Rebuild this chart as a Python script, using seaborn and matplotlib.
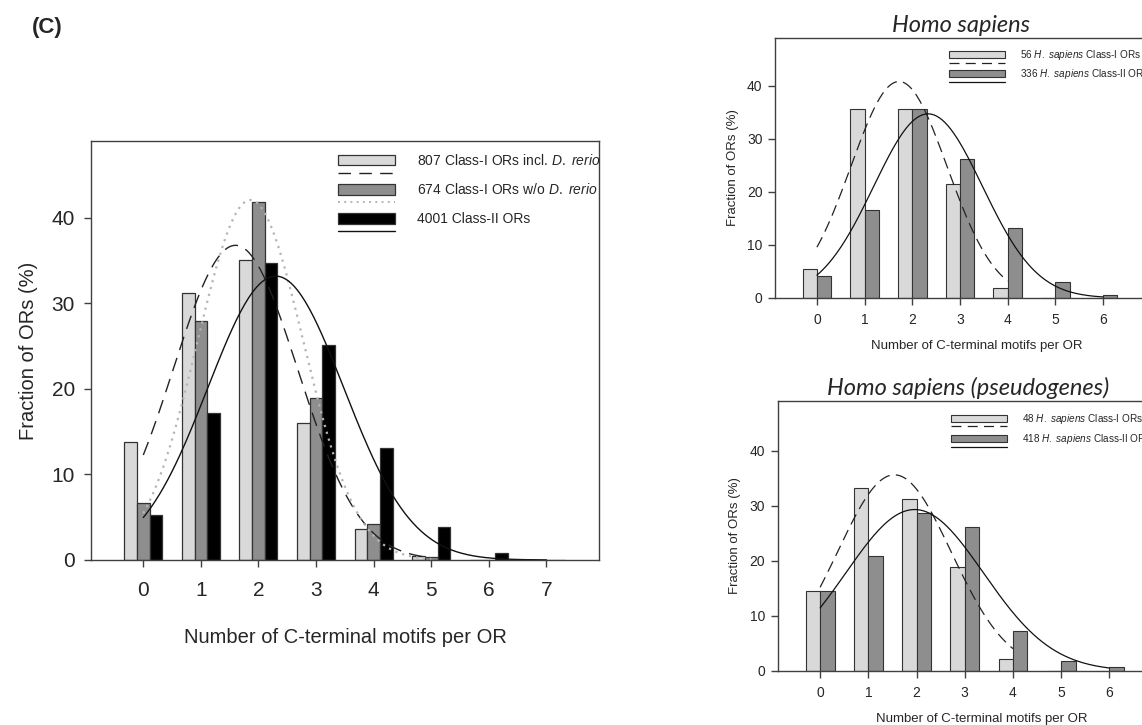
import numpy as np
import pandas as pd
import matplotlib
matplotlib.use("Agg")
import matplotlib.pyplot as plt
import seaborn as sns
from matplotlib.patches import Patch, Rectangle
from matplotlib.lines import Line2D
from matplotlib.legend_handler import HandlerBase

# ---------------- data ----------------
motifs_main = [0, 1, 2, 3, 4, 5, 6, 7]
main_series = ["807 Class-I ORs incl. $\\it{D.\\ rerio}$",
               "674 Class-I ORs w/o $\\it{D.\\ rerio}$",
               "4001 Class-II ORs"]
classI_incl = [13.8, 31.2, 35.1, 16.0, 3.6, 0.5, 0.0, 0.0]
classI_wo = [6.7, 28.0, 41.9, 19.0, 4.2, 0.3, 0.0, 0.0]
classII_all = [5.3, 17.2, 34.7, 25.2, 13.1, 3.8, 0.8, 0.0]
# Gaussian fit parameters: amplitude, mean, sd, last x of curve
fit_incl = (36.8, 1.6, 1.08, 5.0)
fit_wo = (42.1, 1.86, 0.92, 5.0)
fit_II = (33.2, 2.30, 1.18, 7.0)

motifs_hs = [0, 1, 2, 3, 4, 5, 6]
hs_series = ["56 $\\it{H.\\ sapiens}$ Class-I ORs",
             "336 $\\it{H.\\ sapiens}$ Class-II ORs"]
hs_classI = [5.4, 35.7, 35.7, 21.4, 1.8, 0.0, 0.0]
hs_classII = [4.2, 16.5, 35.7, 26.2, 13.1, 3.0, 0.6]
fit_hs_I = (40.8, 1.72, 1.01, 4.0)
fit_hs_II = (34.7, 2.33, 1.14, 6.0)

ps_series = ["48 $\\it{H.\\ sapiens}$ Class-I ORs",
             "418 $\\it{H.\\ sapiens}$ Class-II ORs"]
ps_classI = [14.6, 33.3, 31.3, 18.8, 2.1, 0.0, 0.0]
ps_classII = [14.6, 20.8, 28.7, 26.1, 7.2, 1.9, 0.7]
fit_ps_I = (35.6, 1.54, 1.18, 4.0)
fit_ps_II = (29.3, 1.96, 1.43, 6.0)

yticks = [0, 10, 20, 30, 40]
xlabel = "Number of C-terminal motifs per OR"
ylabel = "Fraction of ORs (%)"

# ---------------- style ----------------
sns.set_style("white")
plt.rcParams["font.family"] = ["Liberation Sans", "DejaVu Sans"]
plt.rcParams["mathtext.fontset"] = "custom"
plt.rcParams["mathtext.rm"] = "Liberation Sans"
plt.rcParams["mathtext.it"] = "Liberation Sans:italic"

LIGHT, MID, DARK = "#d9d9d9", "#8e8e8e", "#000000"
EDGE = "#333333"
SPINE = "#404040"


class BarLineHandler(HandlerBase):
    def __init__(self, gap=0.9, **kw):
        super().__init__(**kw)
        self.gap = gap

    def create_artists(self, legend, orig_handle, xdescent, ydescent,
                       width, height, fontsize, trans):
        patch, line = orig_handle
        x0, y0 = -xdescent, -ydescent
        rect = Rectangle((x0, y0), width, height, transform=trans)
        rect.update_from(patch)
        ln = Line2D([x0, x0 + width], [y0 - self.gap * height] * 2, transform=trans)
        ln.update_from(line)
        return [rect, ln]


def gauss(p):
    a, mu, sd, xend = p
    x = np.linspace(0, xend, 200)
    return x, a * np.exp(-(x - mu) ** 2 / (2 * sd ** 2))


def style_axes(ax, tick_fs, lab_fs, xlim, xpad, ypad):
    ax.set_xlim(*xlim)
    ax.set_ylim(0, 49)
    ax.set_yticks(yticks)
    for s in ax.spines.values():
        s.set_visible(True)
        s.set_color(SPINE)
        s.set_linewidth(1.0)
    ax.tick_params(axis="both", which="both", bottom=True, left=True, top=False,
                   right=False, direction="out", length=5, width=1.0,
                   color=SPINE, labelsize=tick_fs)
    ax.tick_params(axis="x", pad=xpad)
    ax.tick_params(axis="y", pad=ypad)
    ax.set_xlabel(xlabel, fontsize=lab_fs)
    ax.set_ylabel(ylabel, fontsize=lab_fs)


fig = plt.figure(figsize=(11.42, 7.25), dpi=100)

# ---------------- main panel ----------------
ax = fig.add_axes([0.0801, 0.2276, 0.4448, 0.5779])
df = pd.DataFrame({
    "motifs": motifs_main * 3,
    "pct": classI_incl + classI_wo + classII_all,
    "set": [main_series[0]] * 8 + [main_series[1]] * 8 + [main_series[2]] * 8,
})
sns.barplot(data=df, x="motifs", y="pct", hue="set", order=motifs_main,
            hue_order=main_series, palette=[LIGHT, MID, DARK], width=0.66,
            edgecolor=EDGE, linewidth=0.9, saturation=1, ax=ax, legend=False)
x, y = gauss(fit_incl)
ax.plot(x, y, color="#222222", lw=1.0, ls=(0, (10, 6)))
x, y = gauss(fit_wo)
ax.plot(x, y, color="#b5b5b5", lw=1.6, ls=(0, (1, 2.2)))
x, y = gauss(fit_II)
ax.plot(x, y, color="#111111", lw=1.0, ls="-")
style_axes(ax, 15, 14.5, (-0.9, 7.92), 10, 7)
ax.xaxis.labelpad = 20
ax.yaxis.labelpad = 10

handles = [
    (Patch(facecolor=LIGHT, edgecolor=EDGE, linewidth=0.9),
     Line2D([], [], color="#222222", lw=1.0, ls=(0, (9, 6)))),
    (Patch(facecolor=MID, edgecolor=EDGE, linewidth=0.9),
     Line2D([], [], color="#b5b5b5", lw=1.4, ls=(0, (1, 2.2)))),
    (Patch(facecolor=DARK, edgecolor=EDGE, linewidth=0.9),
     Line2D([], [], color="#111111", lw=1.0)),
]
ax.legend(handles, main_series, handler_map={tuple: BarLineHandler(gap=0.7)},
          loc="upper left", bbox_to_anchor=(0.475, 0.985), frameon=False,
          fontsize=10, handlelength=4.1, handleheight=0.8, labelspacing=1.05,
          handletextpad=1.6, borderaxespad=0)

fig.text(0.028, 0.962, "(C)", fontsize=16, fontweight="bold", va="center")


# ---------------- right panels ----------------
def small_panel(rect, cI, cII, labels, fitI, fitII, title, title_x, leg_x, lsp):
    a = fig.add_axes(rect)
    d = pd.DataFrame({
        "motifs": motifs_hs * 2,
        "pct": cI + cII,
        "set": [labels[0]] * 7 + [labels[1]] * 7,
    })
    sns.barplot(data=d, x="motifs", y="pct", hue="set", order=motifs_hs,
                hue_order=labels, palette=[LIGHT, MID], width=0.6,
                edgecolor=EDGE, linewidth=0.8, saturation=1, ax=a, legend=False)
    xx, yy = gauss(fitI)
    a.plot(xx, yy, color="#222222", lw=0.9, ls=(0, (9, 5)))
    xx, yy = gauss(fitII)
    a.plot(xx, yy, color="#111111", lw=0.9)
    style_axes(a, 10, 9.5, (-0.88, 7.6), 6, 4)
    a.xaxis.labelpad = 9
    a.yaxis.labelpad = 6
    a.set_title(title, fontsize=17, fontstyle="italic",
                family=["Lato", "DejaVu Sans"], pad=4, x=title_x)
    h = [
        (Patch(facecolor=LIGHT, edgecolor=EDGE, linewidth=0.8),
         Line2D([], [], color="#222222", lw=0.9, ls=(0, (8, 5)))),
        (Patch(facecolor=MID, edgecolor=EDGE, linewidth=0.8),
         Line2D([], [], color="#111111", lw=0.9)),
    ]
    a.legend(h, labels, handler_map={tuple: BarLineHandler(gap=0.65)},
             loc="upper left", bbox_to_anchor=(leg_x, 0.975), frameon=False,
             fontsize=7.2, handlelength=5.6, handleheight=0.7, labelspacing=lsp,
             handletextpad=1.5, borderaxespad=0)
    return a


small_panel([0.6786, 0.589, 0.3542, 0.3586], hs_classI, hs_classII, hs_series,
            fit_hs_I, fit_hs_II, "Homo sapiens", 0.46, 0.42, 0.5)
small_panel([0.681, 0.0745, 0.358, 0.3724], ps_classI, ps_classII, ps_series,
            fit_ps_I, fit_ps_II, "Homo sapiens (pseudogenes)", 0.465, 0.413, 0.65)

fig.savefig("out.png", dpi=100)
